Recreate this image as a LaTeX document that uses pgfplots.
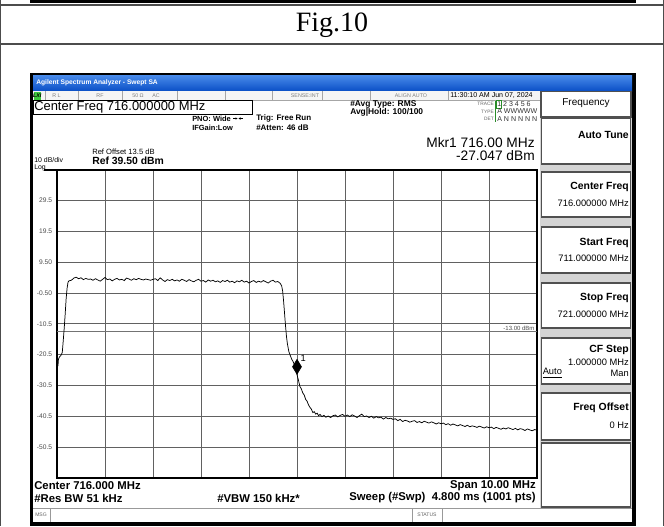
\documentclass[border=0pt]{standalone}
\usepackage{pgfplots}
\pgfplotsset{compat=1.18}
\usepackage{fontspec}
\setmainfont{Liberation Sans}
\newfontfamily\serif{Liberation Serif}
\newcommand\fs[1]{\fontsize{#1}{#1}\selectfont}
\definecolor{tbtop}{HTML}{4A8CEB}
\definecolor{tbbot}{HTML}{0A4FC6}
\definecolor{panel}{HTML}{D4D4D4}
\definecolor{boxln}{HTML}{505050}
\definecolor{lxi}{HTML}{3CC83C}

\pgfplotstableread{
f L
711.00 -24.6
711.01 -22.6
711.02 -24.2
711.03 -22.0
711.05 -21.3
711.08 -20.8
711.11 -19.8
711.13 -16.0
711.15 -12.0
711.17 -7.5
711.19 -2.5
711.21 1.0
711.23 3.0
711.25 3.4
711.30 3.6
711.35 4.3
711.40 4.6
711.45 4.1
711.50 4.4
711.55 3.8
711.60 4.2
711.65 3.9
711.70 4.0
711.75 3.6
711.80 4.1
711.85 3.7
711.90 3.3
711.95 3.9
712.00 4.5
712.05 3.8
712.10 4.0
712.15 3.4
712.20 3.9
712.25 4.2
712.30 3.7
712.35 3.9
712.40 3.5
712.45 4.3
712.50 4.0
712.55 3.6
712.60 4.1
712.65 3.8
712.70 4.2
712.75 3.9
712.80 3.7
712.85 4.0
712.90 3.8
712.95 3.6
713.00 3.9
713.05 4.1
713.10 3.5
713.15 4.4
713.20 3.7
713.25 3.2
713.30 3.8
713.35 3.5
713.40 3.9
713.45 3.4
713.50 3.7
713.55 3.3
713.60 3.9
713.65 3.6
713.70 3.2
713.75 3.8
713.80 3.4
713.85 3.1
713.90 3.6
713.95 3.9
714.00 3.3
714.05 3.5
714.10 3.0
714.15 3.7
714.20 3.3
714.25 3.6
714.30 3.1
714.35 3.4
714.40 2.9
714.45 3.5
714.50 3.2
714.55 3.6
714.60 3.0
714.65 3.3
714.70 2.8
714.75 3.4
714.80 3.1
714.85 3.6
714.90 3.0
714.95 3.3
715.00 2.7
715.05 3.2
715.10 3.5
715.15 2.9
715.20 3.3
715.25 3.0
715.30 3.5
715.35 3.1
715.40 2.7
715.45 3.3
715.50 3.6
715.55 3.0
715.60 3.2
715.65 2.6
715.68 1.8
715.70 0.2
715.72 -3.0
715.74 -7.0
715.76 -11.0
715.78 -14.5
715.80 -17.0
715.83 -19.5
715.86 -20.8
715.89 -22.0
715.92 -22.8
715.95 -24.0
715.98 -25.5
716.00 -27.0
716.03 -28.8
716.06 -30.8
716.09 -31.6
716.12 -32.9
716.15 -33.6
716.18 -35.0
716.21 -35.6
716.24 -36.8
716.27 -37.6
716.30 -38.2
716.33 -39.3
716.36 -39.0
716.39 -39.8
716.42 -39.5
716.45 -40.3
716.48 -39.9
716.52 -40.6
716.56 -40.2
716.60 -40.8
716.65 -40.4
716.70 -40.9
716.75 -40.3
716.80 -40.1
716.85 -40.7
716.90 -40.2
716.95 -39.9
717.00 -40.5
717.05 -40.1
717.10 -40.6
717.15 -40.0
717.20 -40.4
717.25 -40.9
717.30 -40.3
717.35 -39.8
717.40 -40.6
717.45 -40.4
717.50 -40.9
717.55 -40.5
717.60 -41.1
717.65 -40.6
717.70 -41.0
717.75 -40.8
717.80 -41.4
717.85 -40.9
717.90 -41.3
717.95 -41.1
718.00 -41.5
718.05 -41.3
718.10 -41.9
718.15 -41.5
718.20 -42.2
718.25 -41.8
718.30 -42.0
718.35 -42.4
718.40 -42.1
718.45 -41.9
718.50 -42.5
718.55 -42.2
718.60 -42.6
718.65 -42.1
718.70 -42.4
718.75 -42.7
718.80 -42.3
718.85 -42.6
718.90 -43.0
718.95 -42.6
719.00 -42.9
719.05 -42.7
719.10 -43.2
719.15 -42.9
719.20 -43.4
719.25 -43.0
719.30 -43.3
719.35 -43.6
719.40 -43.2
719.45 -43.5
719.50 -43.8
719.55 -43.4
719.60 -43.9
719.65 -43.6
719.70 -43.8
719.75 -44.1
719.80 -43.7
719.85 -44.0
719.90 -44.3
719.95 -43.9
720.00 -44.2
720.05 -44.0
720.10 -44.5
720.15 -44.1
720.20 -44.4
720.25 -44.7
720.30 -44.3
720.35 -44.6
720.40 -44.2
720.45 -44.5
720.50 -44.8
720.55 -44.4
720.60 -44.9
720.65 -44.5
720.70 -44.7
720.75 -45.1
720.80 -44.6
720.85 -44.9
720.90 -45.2
720.95 -44.8
721.00 -45.0
}\trace

\begin{document}
\begin{tikzpicture}
% ---------------- background ----------------
\begin{scope}[x=0.75pt,y=-0.75pt]
\useasboundingbox (0,0) rectangle (664,526);
\fill[white] (0,0) rectangle (664,526);
\fill[black] (30,0) rectangle (636,3);
\draw[line width=0.9pt, black!70] (0.5,0)--(0.5,526) (663.5,0)--(663.5,526) (0,5)--(664,5) (0,44)--(664,44);
\node[font=\serif\fs{21}, inner sep=0pt] at (332,25) {Fig.10};
% screenshot frame
\fill[black] (30,73) rectangle (636,525.5);
\fill[white] (33,91) rectangle (632,522);
\shade[top color=tbtop, bottom color=tbbot] (33,75) rectangle (632,91);
% status row
\fill[black!4] (33,91) rectangle (540,100);
\draw[black!35, line width=0.4pt] (33,100)--(540,100);
\foreach \xx in {45,78,122,177,225,272,322,370,448} \draw[black!35, line width=0.4pt] (\xx,91)--(\xx,100);
\fill[lxi] (33.5,91.5) rectangle (41,99.5);
% center freq box
\draw[black, line width=0.7pt] (33,100.8) rectangle (252,114);
% soft key panel
\fill[panel] (540,91) rectangle (632,508);
\draw[boxln, line width=0.8pt, fill=white] (541,91.5) rectangle (631,117);
\draw[boxln, line width=0.8pt, fill=white] (541.5,118) rectangle (630.5,164);
\foreach \ya/\yb in {172/217,227/273,283/328,338/384,393/440,443/507}
  \draw[boxln, line width=0.8pt, fill=white] (541.5,\ya) rectangle (630.5,\yb);
% message bar
\fill[white] (33,508) rectangle (632,522);
\draw[black!40, line width=0.5pt] (33,508)--(632,508) (50,508)--(50,522) (412,508)--(412,522) (442,508)--(442,522);
% Log line
\draw[black, line width=1.5pt] (44,169.5)--(58,169.5);
\end{scope}

% ---------------- plot ----------------
\begin{axis}[
  at={(42.75pt,-127.125pt)}, anchor=north west,
  width=360pt, height=231.375pt, scale only axis,
  xmin=711, xmax=721, ymin=-60.5, ymax=39.5,
  xtick={711,712,713,714,715,716,717,718,719,720,721},
  xticklabels={},
  ytick={-50.5,-40.5,-30.5,-20.5,-10.5,-0.5,9.5,19.5,29.5},
  yticklabels={-50.5,-40.5,-30.5,-20.5,-10.5,-0.50,9.50,19.5,29.5},
  yticklabel style={font=\fs{5}, text=black!70, inner sep=0pt, xshift=-3.5pt},
  major tick length=0pt,
  grid=major,
  major grid style={draw=black!62, line width=0.55pt},
  axis line style={line width=1.5pt, black},
]
\addplot[black!55, line width=0.5pt] coordinates {(711,-13) (721,-13)};
\addplot[black, line width=0.55pt, mark=none] table[x=f, y=L] {\trace};
\addplot[only marks, mark=diamond*, mark size=5.6pt, mark options={fill=black, draw=black, xscale=0.8, yshift=6pt}] coordinates {(716,-27.047)};
\node[anchor=south east, font=\fs{4.5}, text=black!70, inner sep=0.6pt] at (axis cs:720.97,-13) {-13.00 dBm};
\node[font=\fs{7}, inner sep=0pt] at (axis cs:716.13,-21.6) {1};
\end{axis}

% ---------------- texts ----------------
\begin{scope}[x=0.75pt,y=-0.75pt, every node/.style={inner sep=0pt}]
\node[anchor=west, font=\bfseries\fs{5}, text=white] at (36,83) {Agilent Spectrum Analyzer - Swept SA};
\node[font=\bfseries\itshape\fs{4}] at (37.2,95.5) {LXI};
\begin{scope}[every node/.append style={font=\fs{4}, text=black!50}]
\node[anchor=west] at (52,95.5) {R L};
\node at (100,95.5) {RF};
\node at (138,95.5) {50 Ω};
\node at (156,95.5) {AC};
\node at (305,95.5) {SENSE:INT};
\node at (411,95.5) {ALIGN AUTO};
\end{scope}
\node[anchor=west, font=\fs{5.3}] at (450,95.5) {11:30:10 AM Jun 07, 2024};
\node[anchor=west, font=\fs{9.7}] at (34,107.6) {Center Freq 716.000000 MHz};
\node[anchor=west, font=\bfseries\fs{5.6}] at (192,118.5) {PNO: Wide};
\draw[line width=0.4pt] (233,118.5)--(237,118.5) (239,118.5)--(243,118.5);
\fill (237.5,118.5)--(235.5,117.3)--(235.5,119.7)--cycle;
\fill (238.5,118.5)--(240.5,117.3)--(240.5,119.7)--cycle;
\node[anchor=west, font=\bfseries\fs{5.6}] at (192,128) {IFGain:Low};
\node[anchor=west, font=\bfseries\fs{6}] at (256,118.5) {Trig: Free Run};
\node[anchor=west, font=\bfseries\fs{6}] at (256,128) {\#Atten: 46 dB};
\node[anchor=west, font=\bfseries\fs{6.3}] at (350,104.5) {\#Avg Type: RMS};
\node[anchor=west, font=\bfseries\fs{6.3}] at (350,112.5) {Avg|Hold: 100/100};
% trace table
\begin{scope}[every node/.append style={font=\fs{3.6}, text=black!60, anchor=east}]
\node at (494,104) {TRACE};
\node at (494,111.5) {TYPE};
\node at (494,119) {DET};
\end{scope}
\draw[lxi!70!black, line width=0.4pt] (495.5,100.5)--(495.5,122);
\draw[lxi!70!black, line width=0.4pt] (496,100.5) rectangle (501.5,108);
\node[anchor=west, font=\fs{5.3}, text=black!80] at (497,104) {1 2 3 4 5 6};
\node[anchor=west, font=\fs{5.3}, text=black!80] at (497,111.5) {A WWWWW};
\node[anchor=west, font=\fs{5.3}, text=black!80] at (497,119) {A N N N N N};
% marker readout
\node[anchor=east, font=\fs{10.3}] at (535,142.5) {Mkr1 716.00 MHz};
\node[anchor=east, font=\fs{10.3}] at (535,155.5) {-27.047 dBm};
% ref texts
\node[anchor=west, font=\fs{5.7}] at (92,151.5) {Ref Offset 13.5 dB};
\node[anchor=west, font=\fs{5.2}] at (34,159.6) {10 dB/div};
\node[anchor=west, font=\bfseries\fs{7.8}] at (92,160.5) {Ref 39.50 dBm};
\node[anchor=west, font=\fs{5.2}] at (34,167.6) {Log};
% bottom texts
\node[anchor=west, font=\bfseries\fs{8.5}] at (34,486) {Center 716.000 MHz};
\node[anchor=west, font=\bfseries\fs{8.5}] at (34,498) {\#Res BW 51 kHz};
\node[anchor=west, font=\bfseries\fs{8.5}] at (217,498) {\#VBW 150 kHz*};
\node[anchor=east, font=\bfseries\fs{8.5}] at (536,486) {Span 10.00 MHz};
\node[anchor=east, font=\bfseries\fs{8.5}] at (536,498) {Sweep (\#Swp)\ \ 4.800 ms (1001 pts)};
\node[anchor=west, font=\fs{3.8}, text=black!60] at (35,515) {MSG};
\node[font=\fs{3.8}, text=black!60] at (427,515) {STATUS};
% soft keys
\node[font=\fs{7.5}] at (586,103.5) {Frequency};
\node[anchor=east, font=\bfseries\fs{7.8}] at (629,135) {Auto Tune};
\node[anchor=east, font=\bfseries\fs{7.8}] at (629,187) {Center Freq};
\node[anchor=east, font=\fs{7}] at (629,203) {716.000000 MHz};
\node[anchor=east, font=\bfseries\fs{7.8}] at (629,243) {Start Freq};
\node[anchor=east, font=\fs{7}] at (629,258) {711.000000 MHz};
\node[anchor=east, font=\bfseries\fs{7.8}] at (629,298) {Stop Freq};
\node[anchor=east, font=\fs{7}] at (629,314) {721.000000 MHz};
\node[anchor=east, font=\bfseries\fs{7.8}] at (629,350) {CF Step};
\node[anchor=east, font=\fs{7}] at (629,362) {1.000000 MHz};
\node[anchor=west, font=\fs{7}] at (542.5,373) {\underline{Auto}};
\node[anchor=east, font=\fs{7}] at (629,373) {Man};
\node[anchor=east, font=\bfseries\fs{7.8}] at (629,408) {Freq Offset};
\node[anchor=east, font=\fs{7}] at (629,425) {0 Hz};
\end{scope}
\end{tikzpicture}
\end{document}
